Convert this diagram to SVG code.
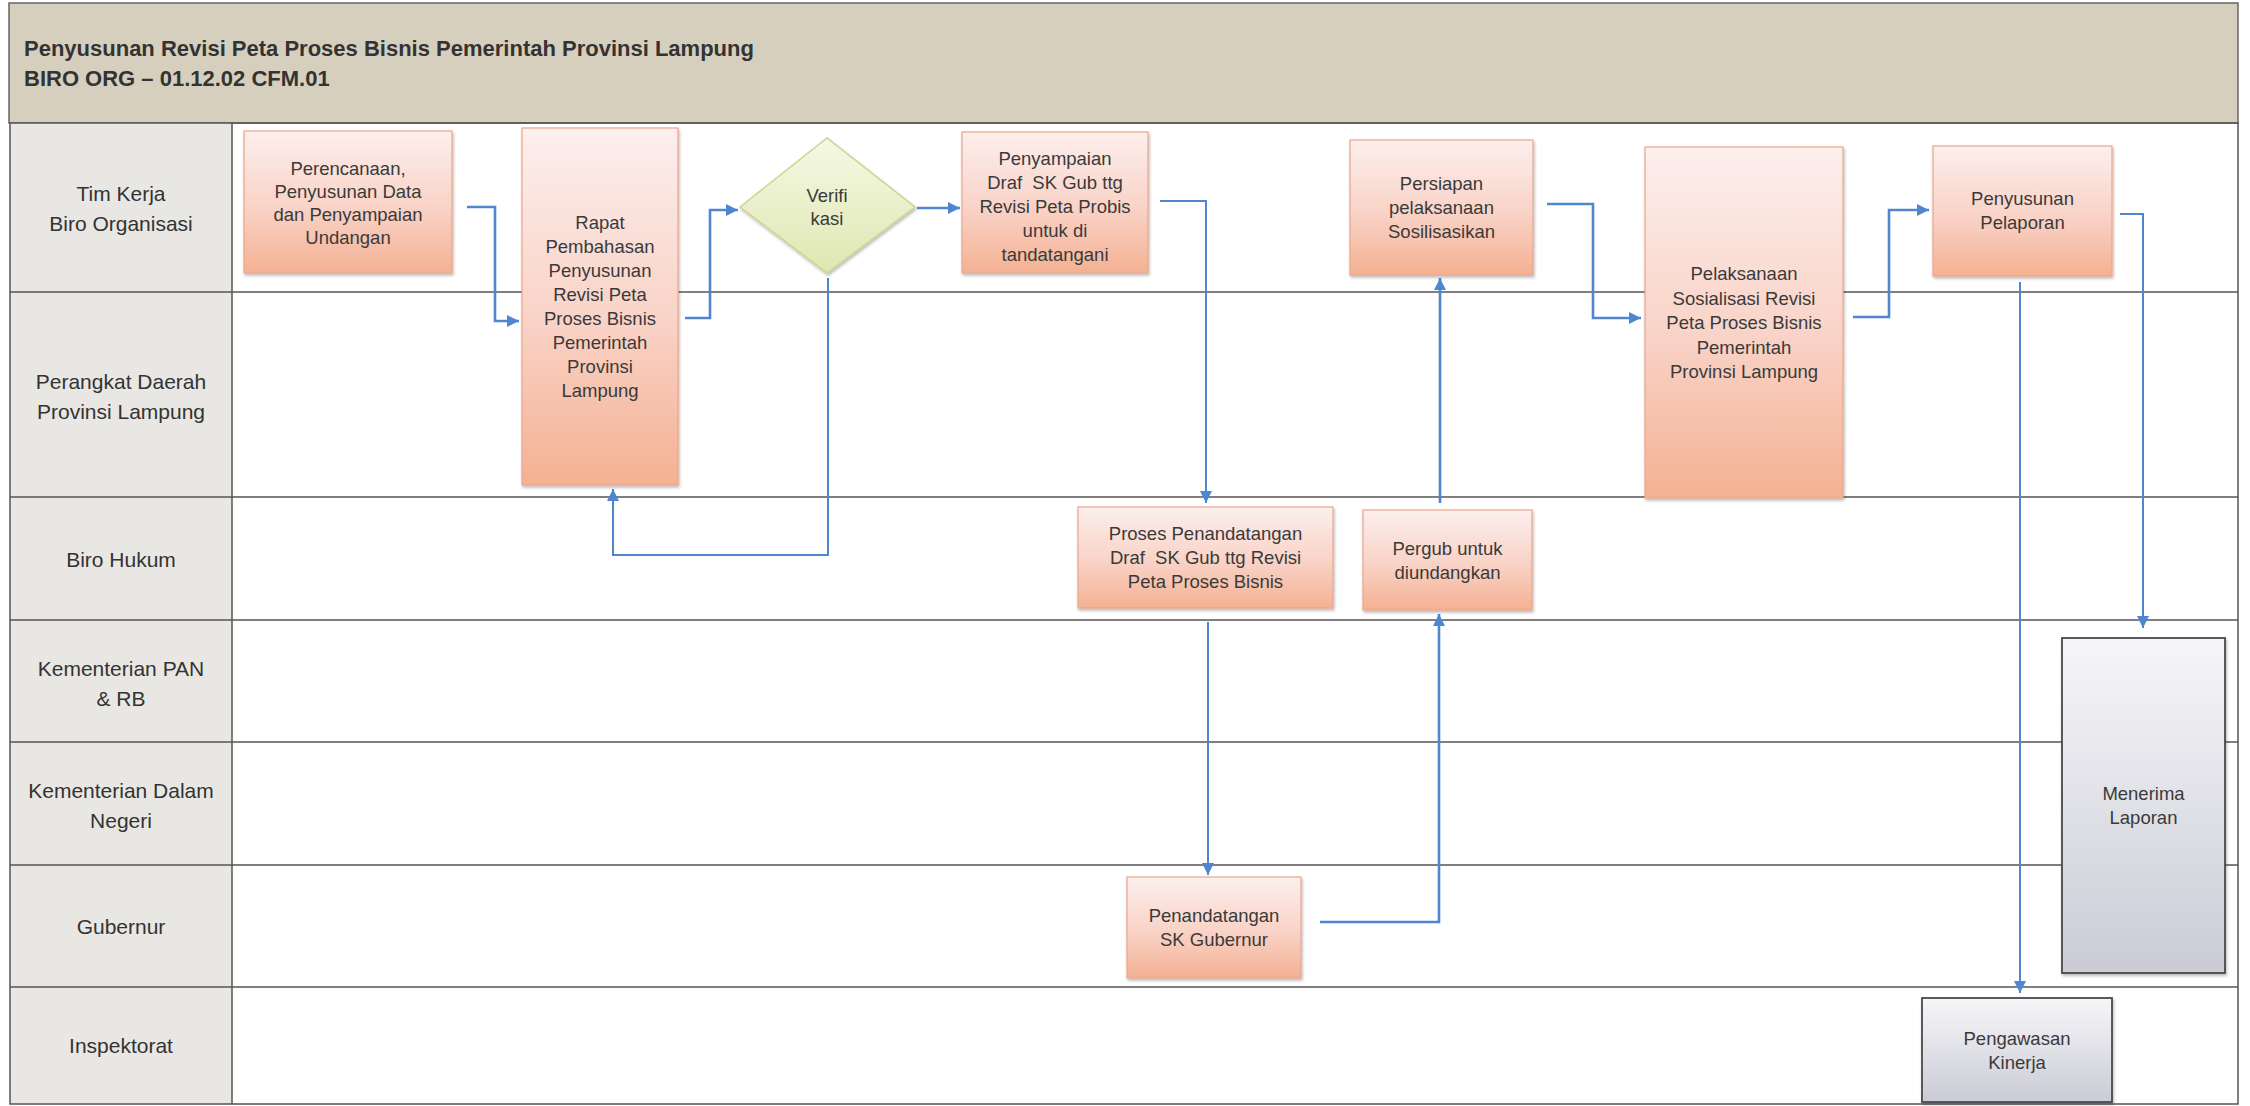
<svg xmlns="http://www.w3.org/2000/svg" width="2250" height="1106" viewBox="0 0 2250 1106">
  <defs>
    <linearGradient id="gOrange" x1="0" y1="0" x2="0" y2="1">
      <stop offset="0" stop-color="#fcefed"/>
      <stop offset="0.55" stop-color="#f9d2c6"/>
      <stop offset="1" stop-color="#f4b192"/>
    </linearGradient>
    <linearGradient id="gGrey" x1="0" y1="0" x2="0" y2="1">
      <stop offset="0" stop-color="#f6f6f9"/>
      <stop offset="1" stop-color="#cbcbd6"/>
    </linearGradient>
    <linearGradient id="gDiamond" x1="0" y1="0" x2="0" y2="1">
      <stop offset="0" stop-color="#f6f8e4"/>
      <stop offset="1" stop-color="#dfe7b2"/>
    </linearGradient>
    <filter id="shadow" x="-10%" y="-10%" width="130%" height="130%">
      <feDropShadow dx="1" dy="2" stdDeviation="1.5" flood-color="#000" flood-opacity="0.28"/>
    </filter>
    <marker id="arrow" viewBox="0 0 10 10" refX="10" refY="5" markerUnits="userSpaceOnUse" markerWidth="13" markerHeight="12" orient="auto">
      <path d="M0,0 L10,5 L0,10 z" fill="#4f86d0"/>
    </marker>
    <style>
      .title { font-family: "Liberation Sans", Arial, sans-serif; font-weight: bold; font-size: 22px; fill: #333; }
      .lane { font-family: "Liberation Sans", Arial, sans-serif; font-size: 21px; fill: #333; text-anchor: middle; }
      .t { font-family: "Liberation Sans", Arial, sans-serif; font-size: 18.5px; fill: #3a3a3a; text-anchor: middle; }
      .sep { stroke: #555; stroke-width: 1.5; fill: none; }
      .box { fill: url(#gOrange); stroke: #eba58a; stroke-width: 1.2; filter: url(#shadow); }
      .ext { fill: url(#gGrey); stroke: #4a4a4a; stroke-width: 1.8; filter: url(#shadow); }
      .dia { fill: url(#gDiamond); stroke: #cbd58f; stroke-width: 1.5; filter: url(#shadow); }
      .con { fill: none; stroke: #4f86d0; stroke-width: 2.6; marker-end: url(#arrow); }
      .con.thin { stroke-width: 2; }
    </style>
  </defs>

  <!-- page background -->
  <rect x="0" y="0" width="2250" height="1106" fill="#ffffff"/>

  <!-- header band -->
  <g id="header">
    <rect x="9" y="3" width="2229" height="120" fill="#d7cfbd" stroke="#666" stroke-width="1.5"/>
    <text class="title" x="24" y="56">Penyusunan Revisi Peta Proses Bisnis Pemerintah Provinsi Lampung</text>
    <text class="title" x="24" y="86">BIRO ORG – 01.12.02 CFM.01</text>
  </g>

  <!-- swimlane grid -->
  <g id="lanes">
    <rect x="10" y="123" width="222" height="981" fill="#e9e7e4"/>
    <rect x="10" y="123" width="2228" height="981" class="sep"/>
    <line x1="232" y1="123" x2="232" y2="1104" class="sep"/>
    <line x1="10" y1="292" x2="2238" y2="292" class="sep"/>
    <line x1="10" y1="497" x2="2238" y2="497" class="sep"/>
    <line x1="10" y1="620" x2="2238" y2="620" class="sep"/>
    <line x1="10" y1="742" x2="2238" y2="742" class="sep"/>
    <line x1="10" y1="865" x2="2238" y2="865" class="sep"/>
    <line x1="10" y1="987" x2="2238" y2="987" class="sep"/>

    <text class="lane" x="121" y="201">Tim Kerja</text>
    <text class="lane" x="121" y="231">Biro Organisasi</text>
    <text class="lane" x="121" y="389">Perangkat Daerah</text>
    <text class="lane" x="121" y="419">Provinsi Lampung</text>
    <text class="lane" x="121" y="567">Biro Hukum</text>
    <text class="lane" x="121" y="676">Kementerian PAN</text>
    <text class="lane" x="121" y="706">&amp; RB</text>
    <text class="lane" x="121" y="798">Kementerian Dalam</text>
    <text class="lane" x="121" y="828">Negeri</text>
    <text class="lane" x="121" y="934">Gubernur</text>
    <text class="lane" x="121" y="1053">Inspektorat</text>
  </g>

  <!-- connectors -->
  <g id="connectors">
    <path class="con" d="M467,207 H495 V321 H519"/>
    <path class="con" d="M685,318 H710 V210 H738"/>
    <path class="con thin" d="M828,278 V555 H613 V489"/>
    <path class="con" d="M917,208 H960"/>
    <path class="con thin" d="M1160,201 H1206 V503"/>
    <path class="con thin" d="M1208,622 V875"/>
    <path class="con" d="M1320,922 H1439 V614"/>
    <path class="con" d="M1440,503 V278"/>
    <path class="con" d="M1547,204 H1593 V318 H1641"/>
    <path class="con" d="M1853,317 H1889 V210 H1929"/>
    <path class="con thin" d="M2120,214 H2143 V628"/>
    <path class="con thin" d="M2020,282 V993"/>
  </g>

  <!-- process steps -->
  <g id="perencanaan">
    <rect class="box" x="244" y="131" width="208" height="142"/>
    <text class="t"><tspan x="348" y="175">Perencanaan,</tspan><tspan x="348" y="198">Penyusunan Data</tspan><tspan x="348" y="221">dan Penyampaian</tspan><tspan x="348" y="244">Undangan</tspan></text>
  </g>

  <g id="rapat">
    <rect class="box" x="522" y="128" width="156" height="357"/>
    <text class="t"><tspan x="600" y="229">Rapat</tspan><tspan x="600" y="253">Pembahasan</tspan><tspan x="600" y="277">Penyusunan</tspan><tspan x="600" y="301">Revisi Peta</tspan><tspan x="600" y="325">Proses Bisnis</tspan><tspan x="600" y="349">Pemerintah</tspan><tspan x="600" y="373">Provinsi</tspan><tspan x="600" y="397">Lampung</tspan></text>
  </g>

  <g id="verifikasi">
    <polygon class="dia" points="740,207 827,138 915,207 827,273"/>
    <text class="t"><tspan x="827" y="202">Verifi</tspan><tspan x="827" y="225">kasi</tspan></text>
  </g>

  <g id="penyampaian">
    <rect class="box" x="962" y="132" width="186" height="141"/>
    <text class="t"><tspan x="1055" y="165">Penyampaian</tspan><tspan x="1055" y="189">Draf&#160; SK Gub ttg</tspan><tspan x="1055" y="213">Revisi Peta Probis</tspan><tspan x="1055" y="237">untuk di</tspan><tspan x="1055" y="261">tandatangani</tspan></text>
  </g>

  <g id="proses-penandatangan">
    <rect class="box" x="1078" y="507" width="255" height="101"/>
    <text class="t"><tspan x="1205.5" y="540">Proses Penandatangan</tspan><tspan x="1205.5" y="564">Draf&#160; SK Gub ttg Revisi</tspan><tspan x="1205.5" y="588">Peta Proses Bisnis</tspan></text>
  </g>

  <g id="penandatangan">
    <rect class="box" x="1127" y="877" width="174" height="101"/>
    <text class="t"><tspan x="1214" y="922">Penandatangan</tspan><tspan x="1214" y="946">SK Gubernur</tspan></text>
  </g>

  <g id="pergub">
    <rect class="box" x="1363" y="510" width="169" height="100"/>
    <text class="t"><tspan x="1447.5" y="555">Pergub untuk</tspan><tspan x="1447.5" y="579">diundangkan</tspan></text>
  </g>

  <g id="persiapan">
    <rect class="box" x="1350" y="140" width="183" height="135"/>
    <text class="t"><tspan x="1441.5" y="190">Persiapan</tspan><tspan x="1441.5" y="214">pelaksanaan</tspan><tspan x="1441.5" y="238">Sosilisasikan</tspan></text>
  </g>

  <g id="pelaksanaan">
    <rect class="box" x="1645" y="147" width="198" height="351"/>
    <text class="t"><tspan x="1744" y="280">Pelaksanaan</tspan><tspan x="1744" y="304.5">Sosialisasi Revisi</tspan><tspan x="1744" y="329">Peta Proses Bisnis</tspan><tspan x="1744" y="353.5">Pemerintah</tspan><tspan x="1744" y="378">Provinsi Lampung</tspan></text>
  </g>

  <g id="penyusunan-pelaporan">
    <rect class="box" x="1933" y="146" width="179" height="130"/>
    <text class="t"><tspan x="2022.5" y="205">Penyusunan</tspan><tspan x="2022.5" y="229">Pelaporan</tspan></text>
  </g>

  <g id="menerima-laporan">
    <rect class="ext" x="2062" y="638" width="163" height="335"/>
    <text class="t"><tspan x="2143.5" y="800">Menerima</tspan><tspan x="2143.5" y="824">Laporan</tspan></text>
  </g>

  <g id="pengawasan-kinerja">
    <rect class="ext" x="1922" y="998" width="190" height="104"/>
    <text class="t"><tspan x="2017" y="1045">Pengawasan</tspan><tspan x="2017" y="1069">Kinerja</tspan></text>
  </g>
</svg>
